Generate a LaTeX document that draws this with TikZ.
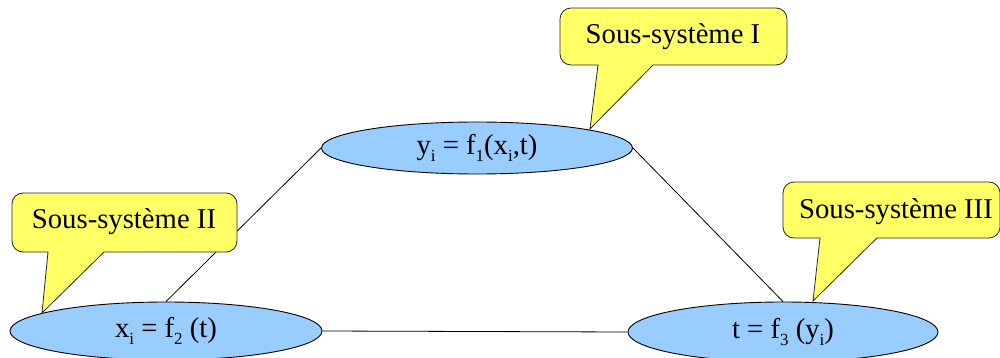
\documentclass[tikz,border=0pt]{standalone}
\usepackage{fontspec}
\setmainfont{Liberation Serif}
\usetikzlibrary{shapes.geometric,backgrounds}
\newcommand{\lowsub}[1]{\raisebox{-6.5pt}{\fontsize{17}{17}\selectfont #1}}
\definecolor{calloutyellow}{RGB}{255,255,102}
\definecolor{ellblue}{RGB}{153,204,255}
\tikzset{
  eqnode/.style={ellipse, draw=black, line width=0.9pt, fill=ellblue, inner sep=0pt,
    font=\fontsize{28.7}{30}\selectfont},
  callouttext/.style={inner sep=0pt, font=\fontsize{28.7}{30}\selectfont},
  calloutshape/.style={draw=black!85, line width=0.8pt, fill=calloutyellow},
  link/.style={draw=black, line width=0.8pt}
}
\begin{document}
\begin{tikzpicture}[x=1pt,y=-1pt]
\useasboundingbox (0,0) rectangle (1000,358);
% equations
\node[eqnode, minimum width=311pt, minimum height=52pt] (e1) at (477,148) {y\lowsub{i} = f\lowsub{1}(x\lowsub{i},t)};
\node[eqnode, minimum width=312pt, minimum height=58pt] (e2) at (166,331) {x\lowsub{i} = f\lowsub{2} (t)};
\node[eqnode, minimum width=310pt, minimum height=60pt] (e3) at (783,332) {t = f\lowsub{3} (y\lowsub{i})};
% links
\begin{scope}[on background layer]
\path[link] (e1.west) -- (e2.north);
\path[link] (e1.east) -- (e3.north);
\path[link] (e2.east) -- (e3.west);
\end{scope}
% callout tips
\coordinate (t1) at (590,129);
\coordinate (t2) at (42,313);
\coordinate (t3) at (813,301);
% callout I
\path[calloutshape] (673,8) [rounded corners=11pt] -- (560,8) -- (560,65) [sharp corners] -- (598,65) -- (t1) -- (653,65) [rounded corners=11pt] -- (787,65) -- (787,8) -- cycle;
\node[callouttext] (c1) at (673,37) {Sous-système I};
% callout II
\path[calloutshape] (124,193) [rounded corners=11pt] -- (12,193) -- (12,252) [sharp corners] -- (48,252) -- (t2) -- (104,252) [rounded corners=11pt] -- (237,252) -- (237,193) -- cycle;
\node[callouttext] (c2) at (124,222) {Sous-système II};
% callout III
\path[calloutshape] (890,182) [rounded corners=11pt] -- (783,182) -- (783,238) [sharp corners] -- (820,238) -- (t3) -- (877,238) [rounded corners=11pt] -- (1000,238) -- (1000,182) -- cycle;
\node[callouttext] (c3) at (896,212) {Sous-système III};
\end{tikzpicture}
\end{document}
